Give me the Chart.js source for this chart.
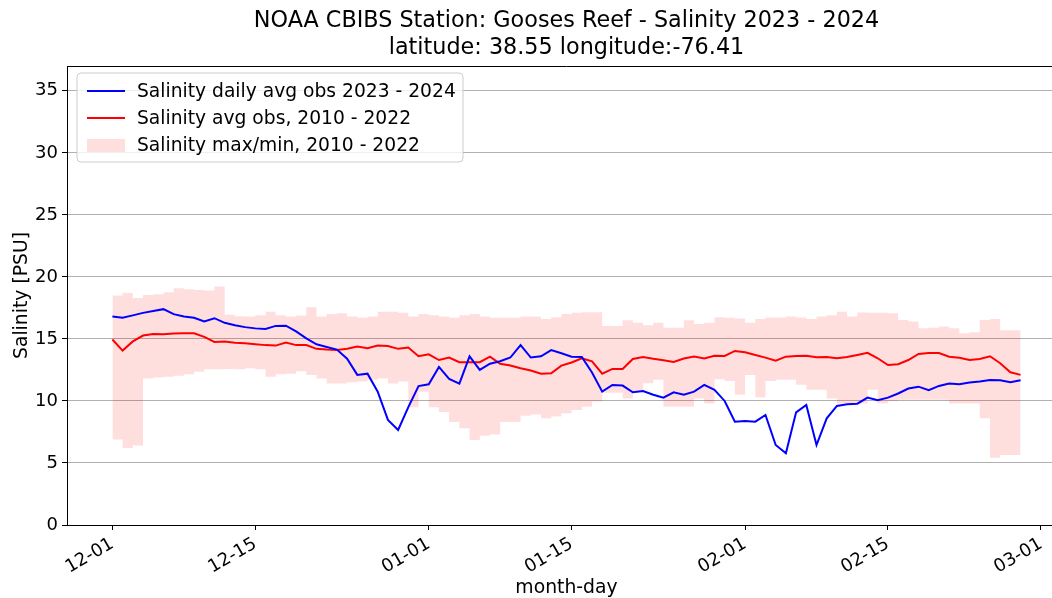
<!DOCTYPE html>
<html>
<head>
<meta charset="utf-8">
<title>Gooses Reef Salinity 2023 - 2024</title>
<script src="https://cdn.jsdelivr.net/npm/chart.js@4.4.1/dist/chart.umd.min.js"></script>
<style>
  html, body { margin: 0; padding: 0; background: #ffffff; overflow: hidden; }
  #wrap { width: 1070px; height: 598px; }
</style>
</head>
<body>
<div id="wrap"><canvas id="chart" width="1070" height="598"></canvas></div>
<script>
// Day 0 = Dec 1, 2023; one value per day through Feb 28, 2024.
const obs2324 = [
  16.8, 16.7, 16.9, 17.1, 17.25, 17.4, 17.0, 16.8, 16.7, 16.4,
  16.67, 16.3, 16.1, 15.95, 15.85, 15.8, 16.05, 16.07, 15.6, 15.05,
  14.57, 14.35, 14.14, 13.4, 12.1, 12.2, 10.75, 8.47, 7.66, 9.5,
  11.2, 11.34, 12.74, 11.77, 11.4, 13.6, 12.5, 13.0, 13.2, 13.5,
  14.5, 13.5, 13.6, 14.1, 13.84, 13.57, 13.55, 12.3, 10.75, 11.29,
  11.24, 10.7, 10.8, 10.5, 10.27, 10.7, 10.5, 10.75, 11.29, 10.9,
  10.0, 8.33, 8.39, 8.33, 8.87, 6.45, 5.78, 9.08, 9.68, 6.45,
  8.6, 9.6, 9.73, 9.78, 10.27, 10.05, 10.27, 10.6, 11.0, 11.15,
  10.86, 11.21, 11.4, 11.34, 11.48, 11.56, 11.69, 11.67, 11.5, 11.67
];

// Climatological daily mean, 2010 - 2022
const avgHist = [
  14.95, 14.06, 14.8, 15.27, 15.4, 15.37, 15.43, 15.46, 15.46, 15.16,
  14.76, 14.8, 14.7, 14.65, 14.57, 14.5, 14.46, 14.7, 14.5, 14.5,
  14.2, 14.14, 14.1, 14.2, 14.38, 14.25, 14.46, 14.43, 14.2, 14.3,
  13.6, 13.76, 13.3, 13.5, 13.12, 13.12, 13.12, 13.57, 13.0, 12.85,
  12.63, 12.45, 12.2, 12.23, 12.85, 13.1, 13.44, 13.2, 12.2, 12.58,
  12.58, 13.38, 13.55, 13.4, 13.28, 13.15, 13.42, 13.58, 13.42, 13.65,
  13.63, 14.03, 13.92, 13.71, 13.49, 13.25, 13.57, 13.63, 13.65, 13.52,
  13.55, 13.44, 13.55, 13.71, 13.88, 13.44, 12.9, 12.96, 13.3, 13.79,
  13.87, 13.87, 13.57, 13.49, 13.3, 13.39, 13.6, 13.04, 12.31, 12.1
];

// Climatological daily maximum, 2010 - 2022
const maxHist = [
  18.41, 18.5, 18.7, 18.3, 18.55, 18.6, 18.76, 19.08, 19.0, 18.95,
  18.9, 19.22, 16.94, 16.83, 16.8, 16.9, 17.2, 16.9, 16.8, 16.88,
  17.55, 16.8, 17.0, 17.07, 16.8, 16.7, 16.8, 17.2, 17.2, 17.1,
  16.8, 17.0, 16.9, 16.8, 16.7, 16.9, 17.0, 16.8, 16.7, 16.7,
  16.7, 16.8, 16.8, 16.6, 16.75, 17.0, 17.1, 17.15, 17.15, 16.05,
  16.05, 16.5, 16.3, 16.1, 16.3, 15.9, 15.9, 16.5, 16.2, 16.3,
  16.75, 16.7, 16.65, 16.3, 16.6, 16.72, 16.72, 16.8, 16.72, 16.6,
  16.8, 16.9, 17.2, 16.8, 17.12, 17.1, 17.1, 17.07, 16.53, 16.4,
  15.86, 15.9, 16.0, 15.86, 15.46, 15.54, 16.53, 16.6, 15.7, 15.7
];

// Climatological daily minimum, 2010 - 2022
const minHist = [
  7.0, 6.9, 6.2, 6.4, 11.8, 11.9, 11.96, 12.04, 12.15, 12.36,
  12.55, 12.55, 12.58, 12.55, 12.63, 12.55, 11.96, 12.15, 12.2, 12.4,
  12.1, 11.8, 11.4, 11.4, 11.5, 11.56, 11.7, 11.8, 11.4, 11.56,
  9.5, 10.75, 9.5, 9.1, 8.3, 7.8, 6.85, 7.2, 7.3, 8.3,
  8.3, 8.8, 8.9, 8.6, 8.74, 9.0, 9.27, 9.54, 9.95, 10.67,
  10.67, 10.2, 10.75, 11.42, 11.7, 9.54, 9.54, 9.54, 10.2, 9.8,
  11.75, 11.6, 10.5, 12.1, 10.3, 11.6, 11.7, 11.7, 11.3, 10.9,
  10.9, 10.2, 9.8, 9.8, 9.8, 10.9, 9.8, 10.0, 10.1, 10.1,
  10.1, 10.1, 10.1, 9.8, 9.8, 9.8, 8.6, 5.43, 5.64, 5.64
];

const tickDays   = [0, 14, 31, 45, 62, 76, 91];
const tickLabels = ['12-01', '12-15', '01-01', '01-15', '02-01', '02-15', '03-01'];
const yTicks     = [0, 5, 10, 15, 20, 25, 30, 35];

const titleLines = ['NOAA CBIBS Station: Gooses Reef - Salinity 2023 - 2024',
                    'latitude: 38.55 longitude:-76.41'];

const FONT = '"DejaVu Sans", "Liberation Sans", sans-serif';
const BLUE = '#0000ff';
const RED = '#ff0000';
const BAND = 'rgba(255, 0, 0, 0.13)';

const toPoints = arr => arr.map((v, i) => ({ x: i, y: v }));

// Frame, rotated date labels, axis titles, figure title and legend box.
const decor = {
  id: 'decor',
  afterDraw(chart) {
    const { ctx, chartArea: a, scales } = chart;
    const xs = scales.x;
    const cx = (a.left + a.right) / 2;
    ctx.save();

    // top and right spines
    ctx.strokeStyle = '#000';
    ctx.lineWidth = 1;
    ctx.beginPath();
    ctx.moveTo(a.left, Math.round(a.top) + 0.5);
    ctx.lineTo(a.right, Math.round(a.top) + 0.5);
    ctx.moveTo(Math.round(a.right) - 0.5, a.top);
    ctx.lineTo(Math.round(a.right) - 0.5, a.bottom);
    ctx.stroke();

    // date tick labels, rotated 30 degrees and right-aligned at the tick
    ctx.fillStyle = '#000';
    ctx.font = '18px ' + FONT;
    const h = 13;
    tickDays.forEach((d, i) => {
      const px = xs.getPixelForValue(d);
      ctx.save();
      ctx.translate(px - h * 0.5 + 2, a.bottom + 10);
      ctx.rotate(-Math.PI / 6);
      ctx.textAlign = 'right';
      ctx.textBaseline = 'top';
      ctx.fillText(tickLabels[i], 0, 0);
      ctx.restore();
    });

    // axis titles
    ctx.font = '18.8px ' + FONT;
    ctx.textAlign = 'center';
    ctx.textBaseline = 'alphabetic';
    ctx.fillText('month-day', cx, 593);
    ctx.save();
    ctx.translate(27, (a.top + a.bottom) / 2);
    ctx.rotate(-Math.PI / 2);
    ctx.fillText('Salinity [PSU]', 0, 0);
    ctx.restore();

    // figure title
    ctx.font = '22.3px ' + FONT;
    ctx.fillText(titleLines[0], cx, 27);
    ctx.fillText(titleLines[1], cx, 54);

    // legend
    const lx = 77, ly = 73, lw = 386, lh = 89, r = 4;
    ctx.beginPath();
    ctx.moveTo(lx + r, ly);
    ctx.arcTo(lx + lw, ly, lx + lw, ly + lh, r);
    ctx.arcTo(lx + lw, ly + lh, lx, ly + lh, r);
    ctx.arcTo(lx, ly + lh, lx, ly, r);
    ctx.arcTo(lx, ly, lx + lw, ly, r);
    ctx.closePath();
    ctx.fillStyle = 'rgba(255,255,255,0.8)';
    ctx.fill();
    ctx.strokeStyle = '#cccccc';
    ctx.lineWidth = 1;
    ctx.stroke();

    const ds = chart.data.datasets;
    const rows = [91, 118, 145];
    ctx.font = '18.7px ' + FONT;
    ctx.textAlign = 'left';
    ctx.textBaseline = 'middle';
    [0, 1, 2].forEach((k, i) => {
      const y = rows[i];
      if (k < 2) {
        ctx.strokeStyle = ds[k].borderColor;
        ctx.lineWidth = 2;
        ctx.beginPath();
        ctx.moveTo(87, y);
        ctx.lineTo(125, y);
        ctx.stroke();
      } else {
        ctx.fillStyle = ds[k].backgroundColor;
        ctx.fillRect(87, y - 6, 38, 13);
      }
      ctx.fillStyle = '#000';
      ctx.fillText(ds[k].label, 137, y + 1);
    });

    ctx.restore();
  }
};

new Chart(document.getElementById('chart'), {
  type: 'line',
  data: {
    datasets: [
      {
        label: 'Salinity daily avg obs 2023 - 2024',
        data: toPoints(obs2324),
        borderColor: BLUE, borderWidth: 2, pointRadius: 0, fill: false, order: 0
      },
      {
        label: 'Salinity avg obs, 2010 - 2022',
        data: toPoints(avgHist),
        borderColor: RED, borderWidth: 2, pointRadius: 0, fill: false, order: 1
      },
      {
        label: 'Salinity max/min, 2010 - 2022',
        data: toPoints(maxHist),
        borderColor: 'rgba(0,0,0,0)', borderWidth: 0, backgroundColor: BAND,
        stepped: 'after', pointRadius: 0, fill: '+1', order: 2
      },
      {
        label: 'min',
        data: toPoints(minHist),
        borderColor: 'rgba(0,0,0,0)', borderWidth: 0,
        stepped: 'after', pointRadius: 0, fill: false, order: 3
      }
    ]
  },
  options: {
    responsive: false,
    animation: false,
    devicePixelRatio: 1,
    layout: { padding: { top: 66, right: 4, left: 0, bottom: 0 } },
    plugins: {
      legend: { display: false },
      tooltip: { enabled: false },
      title: { display: false }
    },
    scales: {
      x: {
        type: 'linear',
        min: -4.45, max: 93.45,
        afterBuildTicks: s => { s.ticks = tickDays.map(v => ({ value: v })); },
        afterFit: s => { s.height = 73; },
        ticks: { display: false },
        grid: { drawOnChartArea: false, drawTicks: true, tickLength: 5, tickColor: '#000', tickWidth: 1 },
        border: { display: true, color: '#000', width: 1 }
      },
      y: {
        min: 0, max: 37,
        afterBuildTicks: s => { s.ticks = yTicks.map(v => ({ value: v })); },
        afterFit: s => { s.width = 67; },
        ticks: {
          font: { family: FONT, size: 18 }, color: '#000', padding: 4,
          callback: v => String(v)
        },
        grid: { color: '#b0b0b0', lineWidth: 1, drawTicks: true, tickLength: 5, tickColor: '#000', tickWidth: 1 },
        border: { display: true, color: '#000', width: 1 }
      }
    }
  },
  plugins: [decor]
});
</script>
</body>
</html>
